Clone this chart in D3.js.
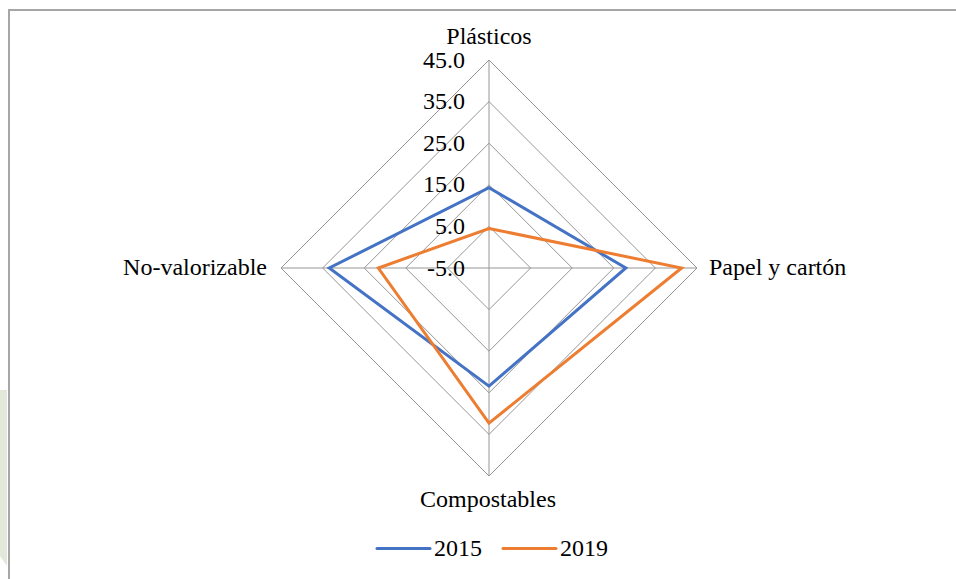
<!DOCTYPE html>
<html>
<head>
<meta charset="utf-8">
<script src="https://cdn.jsdelivr.net/npm/d3@7"></script>
<style>
  html, body { margin: 0; padding: 0; background: #fff; }
  svg { display: block; }
  text { font-family: "Liberation Serif", "Times New Roman", serif; fill: #000; }
</style>
</head>
<body>
<svg id="chart" width="956" height="579"></svg>
<script>
// Waste composition (%) by category
const categories = ["Plásticos", "Papel y cartón", "Compostables", "No-valorizable"];
const series2015 = [14.3, 27.9, 23.4, 33.4];
const series2019 = [4.5, 41.3, 32.3, 21.6];
const years = ["2015", "2019"];
const tickValues = [-5, 5, 15, 25, 35, 45];

const colors = ["#4472C4", "#ED7D31"];
const fontSize = 24;
const svg = d3.select("#chart");

// faint green patch at left edge
svg.append("path")
  .attr("d", "M0,390 L7,390 L7,566 L0,556 Z")
  .attr("fill", "#e3e9da");

// chart frame
svg.append("rect")
  .attr("x", 9).attr("y", 10)
  .attr("width", 1200).attr("height", 1200)
  .attr("fill", "#fff")
  .attr("stroke", "#a6a6a6").attr("stroke-width", 2);

const cx = 489, cy = 268, R = 208;
const r = d3.scaleLinear().domain([-5, 45]).range([0, R]);
const angle = d3.scalePoint().domain(categories).range([0, 2 * Math.PI * 3 / 4]);

function pt(cat, v) {
  const a = angle(cat) - Math.PI / 2;
  return [cx + r(v) * Math.cos(a), cy + r(v) * Math.sin(a)];
}

const g = svg.append("g");

// grid rings
tickValues.slice(1).forEach(t => {
  g.append("path")
    .attr("d", d3.line()(categories.map(c => pt(c, t))) + "Z")
    .attr("fill", "none").attr("stroke", "#969696").attr("stroke-width", 1);
});
// spokes
categories.forEach(c => {
  const [x, y] = pt(c, 45);
  g.append("line").attr("x1", cx).attr("y1", cy).attr("x2", x).attr("y2", y)
    .attr("stroke", "#969696").attr("stroke-width", 1);
});

// tick labels along the top axis
tickValues.forEach(t => {
  g.append("text")
    .attr("x", 465).attr("y", cy - r(t))
    .attr("dy", "0.32em")
    .attr("text-anchor", "end")
    .attr("font-size", fontSize)
    .text(t.toFixed(1));
});

// series lines
[series2015, series2019].forEach((s, i) => {
  g.append("path")
    .attr("d", d3.line()(categories.map((c, j) => pt(c, s[j]))) + "Z")
    .attr("fill", "none").attr("stroke", colors[i])
    .attr("stroke-width", 3).attr("stroke-linejoin", "miter");
});

// category labels
const catPos = [
  { x: cx, y: 44, anchor: "middle" },
  { x: 709, y: 275, anchor: "start" },
  { x: 488, y: 507, anchor: "middle" },
  { x: 267, y: 275, anchor: "end" }
];
categories.forEach((c, i) => {
  g.append("text")
    .attr("x", catPos[i].x).attr("y", catPos[i].y)
    .attr("text-anchor", catPos[i].anchor)
    .attr("font-size", fontSize)
    .text(c);
});

// legend
const legX = [377, 503];
years.forEach((yName, i) => {
  const lg = svg.append("g");
  lg.append("line").attr("x1", legX[i]).attr("x2", legX[i] + 53)
    .attr("y1", 548.5).attr("y2", 548.5)
    .attr("stroke", colors[i]).attr("stroke-width", 3).attr("stroke-linecap", "round");
  lg.append("text").attr("x", legX[i] + 57).attr("y", 556)
    .attr("font-size", fontSize).text(yName);
});
</script>
</body>
</html>
